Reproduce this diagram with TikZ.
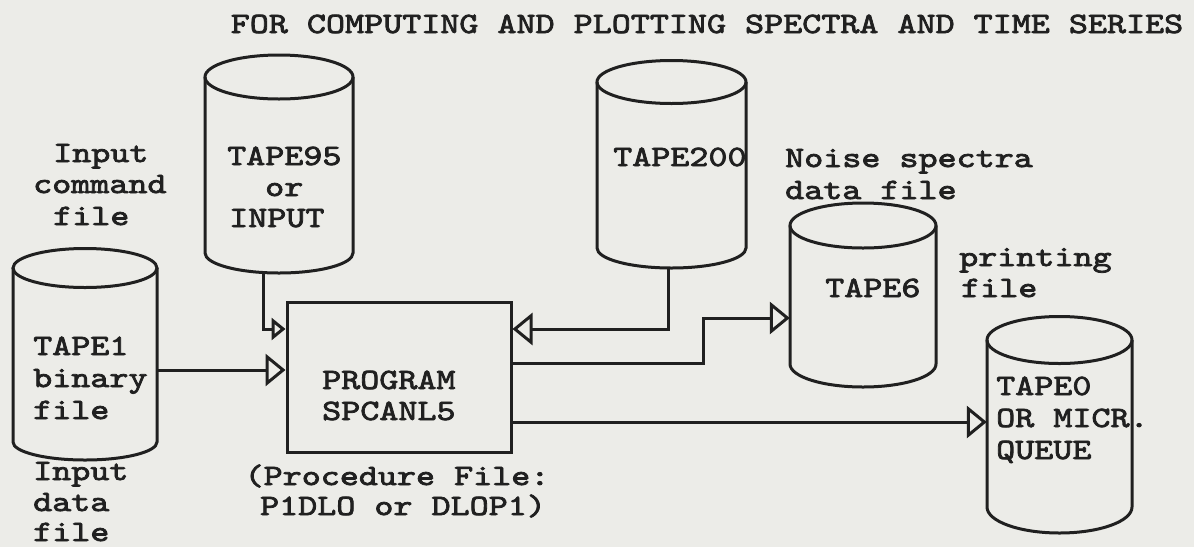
\documentclass[tikz,border=0pt]{standalone}
\usepackage{fontspec}
\usetikzlibrary{arrows.meta}
\newfontfamily\twfont{lmmono10-regular.otf}[FakeStretch=1.23,FakeBold=2.6]
\definecolor{inkc}{RGB}{32,32,32}
\definecolor{paper}{RGB}{236,236,232}
\tikzset{
  ink/.style={draw=inkc, line width=3pt},
  lbl/.style={inner sep=0pt, text=inkc, anchor=base west, font=\twfont\fontsize{29.5}{31}\selectfont},
  arr/.style={ink, -{Triangle[open, length=20pt, width=32pt]}},
  arrs/.style={ink, -{Triangle[open, length=14pt, width=22pt]}},
}
% name, cx, y of top ellipse, y of side bottom, rx, ry top, ry bottom
\newcommand\mydrum[7]{%
  \node[inner sep=0pt, minimum width=2*#5pt, minimum height=#4pt-#3pt] (#1) at (#2,{(#3+#4)/2}) {};
  \draw[ink] (#2,#3) ellipse[x radius=#5pt, y radius=#6pt];
  \draw[ink] ({#2-#5},#3) -- ({#2-#5},#4) arc[start angle=180, end angle=360, x radius=#5pt, y radius=#7pt] -- ({#2+#5},#3);
}
\begin{document}
\begin{tikzpicture}[x=1pt,y=-1pt]
\fill[paper] (0,0) rectangle (1194,547);
\useasboundingbox (0,0) rectangle (1194,547);

% title
\node[lbl, anchor=base] (title) at (707,33) {FOR COMPUTING AND PLOTTING SPECTRA AND TIME SERIES};

% cylinders
\mydrum{t95}{279}{77}{253}{74}{22}{20}
\mydrum{t1}{85}{268}{442}{72}{19.5}{18}
\mydrum{t200}{671.5}{82}{248}{74.5}{21.5}{20}
\mydrum{t6}{863}{225.5}{364}{73}{22.5}{23}
\mydrum{t0}{1059.5}{340}{507}{72.5}{23.5}{26}

% program box
\node[ink, draw, inner sep=0pt, minimum width=224pt, minimum height=150pt] (prog) at (399,377) {};

% connector levels
\coordinate (y329) at (0,329);
\coordinate (y370) at (0,370);
\coordinate (y363) at (0,363);
\coordinate (y422) at (0,422);
\coordinate (t95out) at (263,273);
\coordinate (t200out) at (668,268);
\coordinate (bend) at (703,318);

\draw[arr] (t1.east |- y370) -- (prog.west |- y370);
\draw[arrs] (t95out) |- (prog.west |- y329);
\draw[arr] (t200out) |- (prog.east |- y329);
\draw[arr] (prog.east |- y363) -| (bend) -- (t6.west |- bend);
\draw[arr] (prog.east |- y422) -- (t0.west |- y422);

% labels
\node[lbl] (ic1) at (53,162) {Input};
\node[lbl] (ic2) at (33,193) {command};
\node[lbl] (ic3) at (53,225) {file};

\node[lbl] (t95a) at (227,165) {TAPE95};
\node[lbl] (t95b) at (265,196) {or};
\node[lbl] (t95c) at (229,227) {INPUT};

\node[lbl] (t200a) at (613,166) {TAPE200};

\node[lbl] (ns1) at (785,167) {Noise spectra};
\node[lbl] (ns2) at (785,199) {data file};

\node[lbl] (pf1) at (959,266) {printing};
\node[lbl] (pf2) at (961,297) {file};

\node[lbl] (t6a) at (825,297) {TAPE6};

\node[lbl] (t1a) at (33,355) {TAPE1};
\node[lbl] (t1b) at (33,387) {binary};
\node[lbl] (t1c) at (33,419) {file};

\node[lbl] (id1) at (33,480) {Input};
\node[lbl] (id2) at (33,511) {data};
\node[lbl] (id3) at (33,541) {file};

\node[lbl] (pr1) at (322,389) {PROGRAM};
\node[lbl] (pr2) at (322,420) {SPCANL5};

\node[lbl, anchor=base] (pc1) at (397,485) {(Procedure File:};
\node[lbl, anchor=base] (pc2) at (403,515) {P1DLO or DLOP1)};

\node[lbl] (t0a) at (996,395) {TAPE0};
\node[lbl] (t0b) at (996,427) {OR MICR.};
\node[lbl] (t0c) at (996,459) {QUEUE};
\end{tikzpicture}
\end{document}
